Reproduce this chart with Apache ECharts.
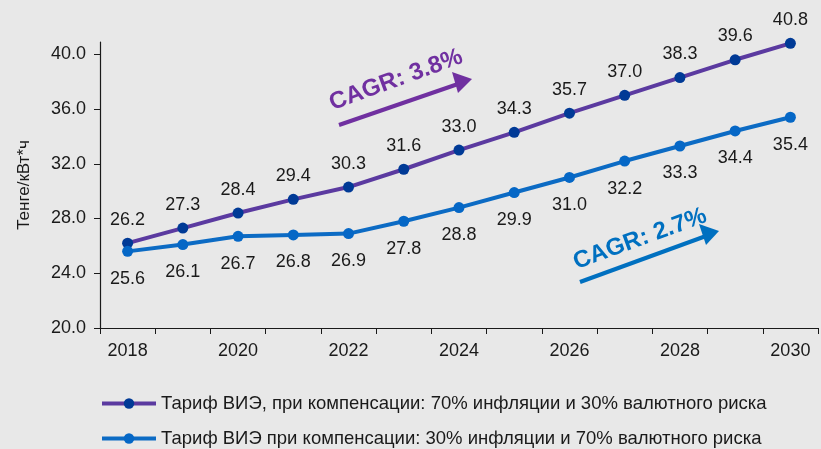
<!DOCTYPE html>
<html>
<head>
<meta charset="utf-8">
<script src="https://cdn.jsdelivr.net/npm/echarts@6/dist/echarts.min.js"></script>
<style>
  html, body { margin: 0; padding: 0; background: #e8e8e8; }
  #chart { width: 821px; height: 449px; }
</style>
</head>
<body>
<div id="chart"></div>
<script>
// data
var years = ['2018', '2019', '2020', '2021', '2022', '2023', '2024', '2025', '2026', '2027', '2028', '2029', '2030'];
var tariff70infl = [26.2, 27.3, 28.4, 29.4, 30.3, 31.6, 33.0, 34.3, 35.7, 37.0, 38.3, 39.6, 40.8];
var tariff30infl = [25.6, 26.1, 26.7, 26.8, 26.9, 27.8, 28.8, 29.9, 31.0, 32.2, 33.3, 34.4, 35.4];
var yTicks = [20, 24, 28, 32, 36, 40];
var seriesNames = [
    'Тариф ВИЭ, при компенсации: 70% инфляции и 30% валютного риска',
    'Тариф ВИЭ при компенсации: 30% инфляции и 70% валютного риска'
];
var cagrLabels = ['CAGR: 3.8%', 'CAGR: 2.7%'];

var FONT = 'Liberation Sans, Arial, sans-serif';
var ang = 20 * Math.PI / 180;

function legendAt(name, top) {
    return {
        orient: 'horizontal',
        left: 100,
        top: top,
        padding: 0,
        itemWidth: 54,
        itemHeight: 13,
        itemGap: 0,
        lineStyle: { width: 4 },
        textStyle: { fontFamily: FONT, fontSize: 18.5, color: '#1a1a1a' },
        data: [name]
    };
}

var myChart = echarts.init(document.getElementById('chart'));
var option = {
    backgroundColor: '#e8e8e8',
    animation: false,
    textStyle: { fontFamily: FONT },
    grid: { left: 100, right: 3, top: 42, bottom: 121, containLabel: false },
    legend: [legendAt(seriesNames[0], 394), legendAt(seriesNames[1], 429)],
    xAxis: {
        type: 'category',
        data: years,
        boundaryGap: true,
        axisLine: { lineStyle: { color: '#1a1a1a', width: 1.2 } },
        axisTick: { show: true, interval: 0, length: 6, lineStyle: { color: '#1a1a1a' } },
        axisLabel: { interval: 1, margin: 14, fontSize: 18, color: '#1a1a1a', fontFamily: FONT },
        splitLine: { show: false }
    },
    yAxis: {
        type: 'value',
        min: 20,
        max: 40.9,
        interval: 4,
        name: 'Тенге/кВт*ч',
        nameLocation: 'middle',
        nameGap: 67,
        nameRotate: 90,
        nameTextStyle: { fontSize: 17, color: '#1a1a1a', fontFamily: FONT },
        axisLine: { show: true, lineStyle: { color: '#1a1a1a', width: 1.2 } },
        axisTick: { show: true, length: 6, customValues: yTicks, lineStyle: { color: '#1a1a1a' } },
        axisLabel: {
            margin: 14, fontSize: 18, color: '#1a1a1a', fontFamily: FONT,
            customValues: yTicks,
            formatter: function (v) { return v.toFixed(1); }
        },
        splitLine: { show: false }
    },
    series: [
        {
            name: seriesNames[0],
            type: 'line',
            data: tariff70infl,
            symbol: 'circle',
            symbolSize: 11,
            clip: false,
            lineStyle: { color: '#5b3aa0', width: 4 },
            itemStyle: { color: '#003a96' },
            label: {
                show: true, position: 'top', distance: 9,
                fontSize: 18, color: '#1a1a1a', fontFamily: FONT,
                formatter: function (p) { return p.value.toFixed(1); }
            }
        },
        {
            name: seriesNames[1],
            type: 'line',
            data: tariff30infl,
            symbol: 'circle',
            symbolSize: 11,
            clip: false,
            lineStyle: { color: '#0c6bc4', width: 4 },
            itemStyle: { color: '#0567c6' },
            label: {
                show: true, position: 'bottom', distance: 13,
                fontSize: 18, color: '#1a1a1a', fontFamily: FONT,
                formatter: function (p) { return p.value.toFixed(1); }
            }
        }
    ],
    graphic: [
        {
            type: 'text', x: 396, y: 80, rotation: ang,
            style: { text: cagrLabels[0], fill: '#7030a0', font: 'bold 24px ' + FONT, align: 'center', verticalAlign: 'middle' }
        },
        {
            type: 'line',
            shape: { x1: 339, y1: 125, x2: 458, y2: 84 },
            style: { stroke: '#7030a0', lineWidth: 4 }
        },
        {
            type: 'polygon',
            shape: { points: [[472, 79], [452, 72], [458, 93]] },
            style: { fill: '#7030a0' }
        },
        {
            type: 'text', x: 640, y: 239, rotation: ang,
            style: { text: cagrLabels[1], fill: '#0070c0', font: 'bold 24px ' + FONT, align: 'center', verticalAlign: 'middle' }
        },
        {
            type: 'line',
            shape: { x1: 580, y1: 282, x2: 706, y2: 236 },
            style: { stroke: '#0070c0', lineWidth: 4 }
        },
        {
            type: 'polygon',
            shape: { points: [[719, 231], [699, 224], [706, 245]] },
            style: { fill: '#0070c0' }
        }
    ]
};
myChart.setOption(option);
</script>
</body>
</html>
